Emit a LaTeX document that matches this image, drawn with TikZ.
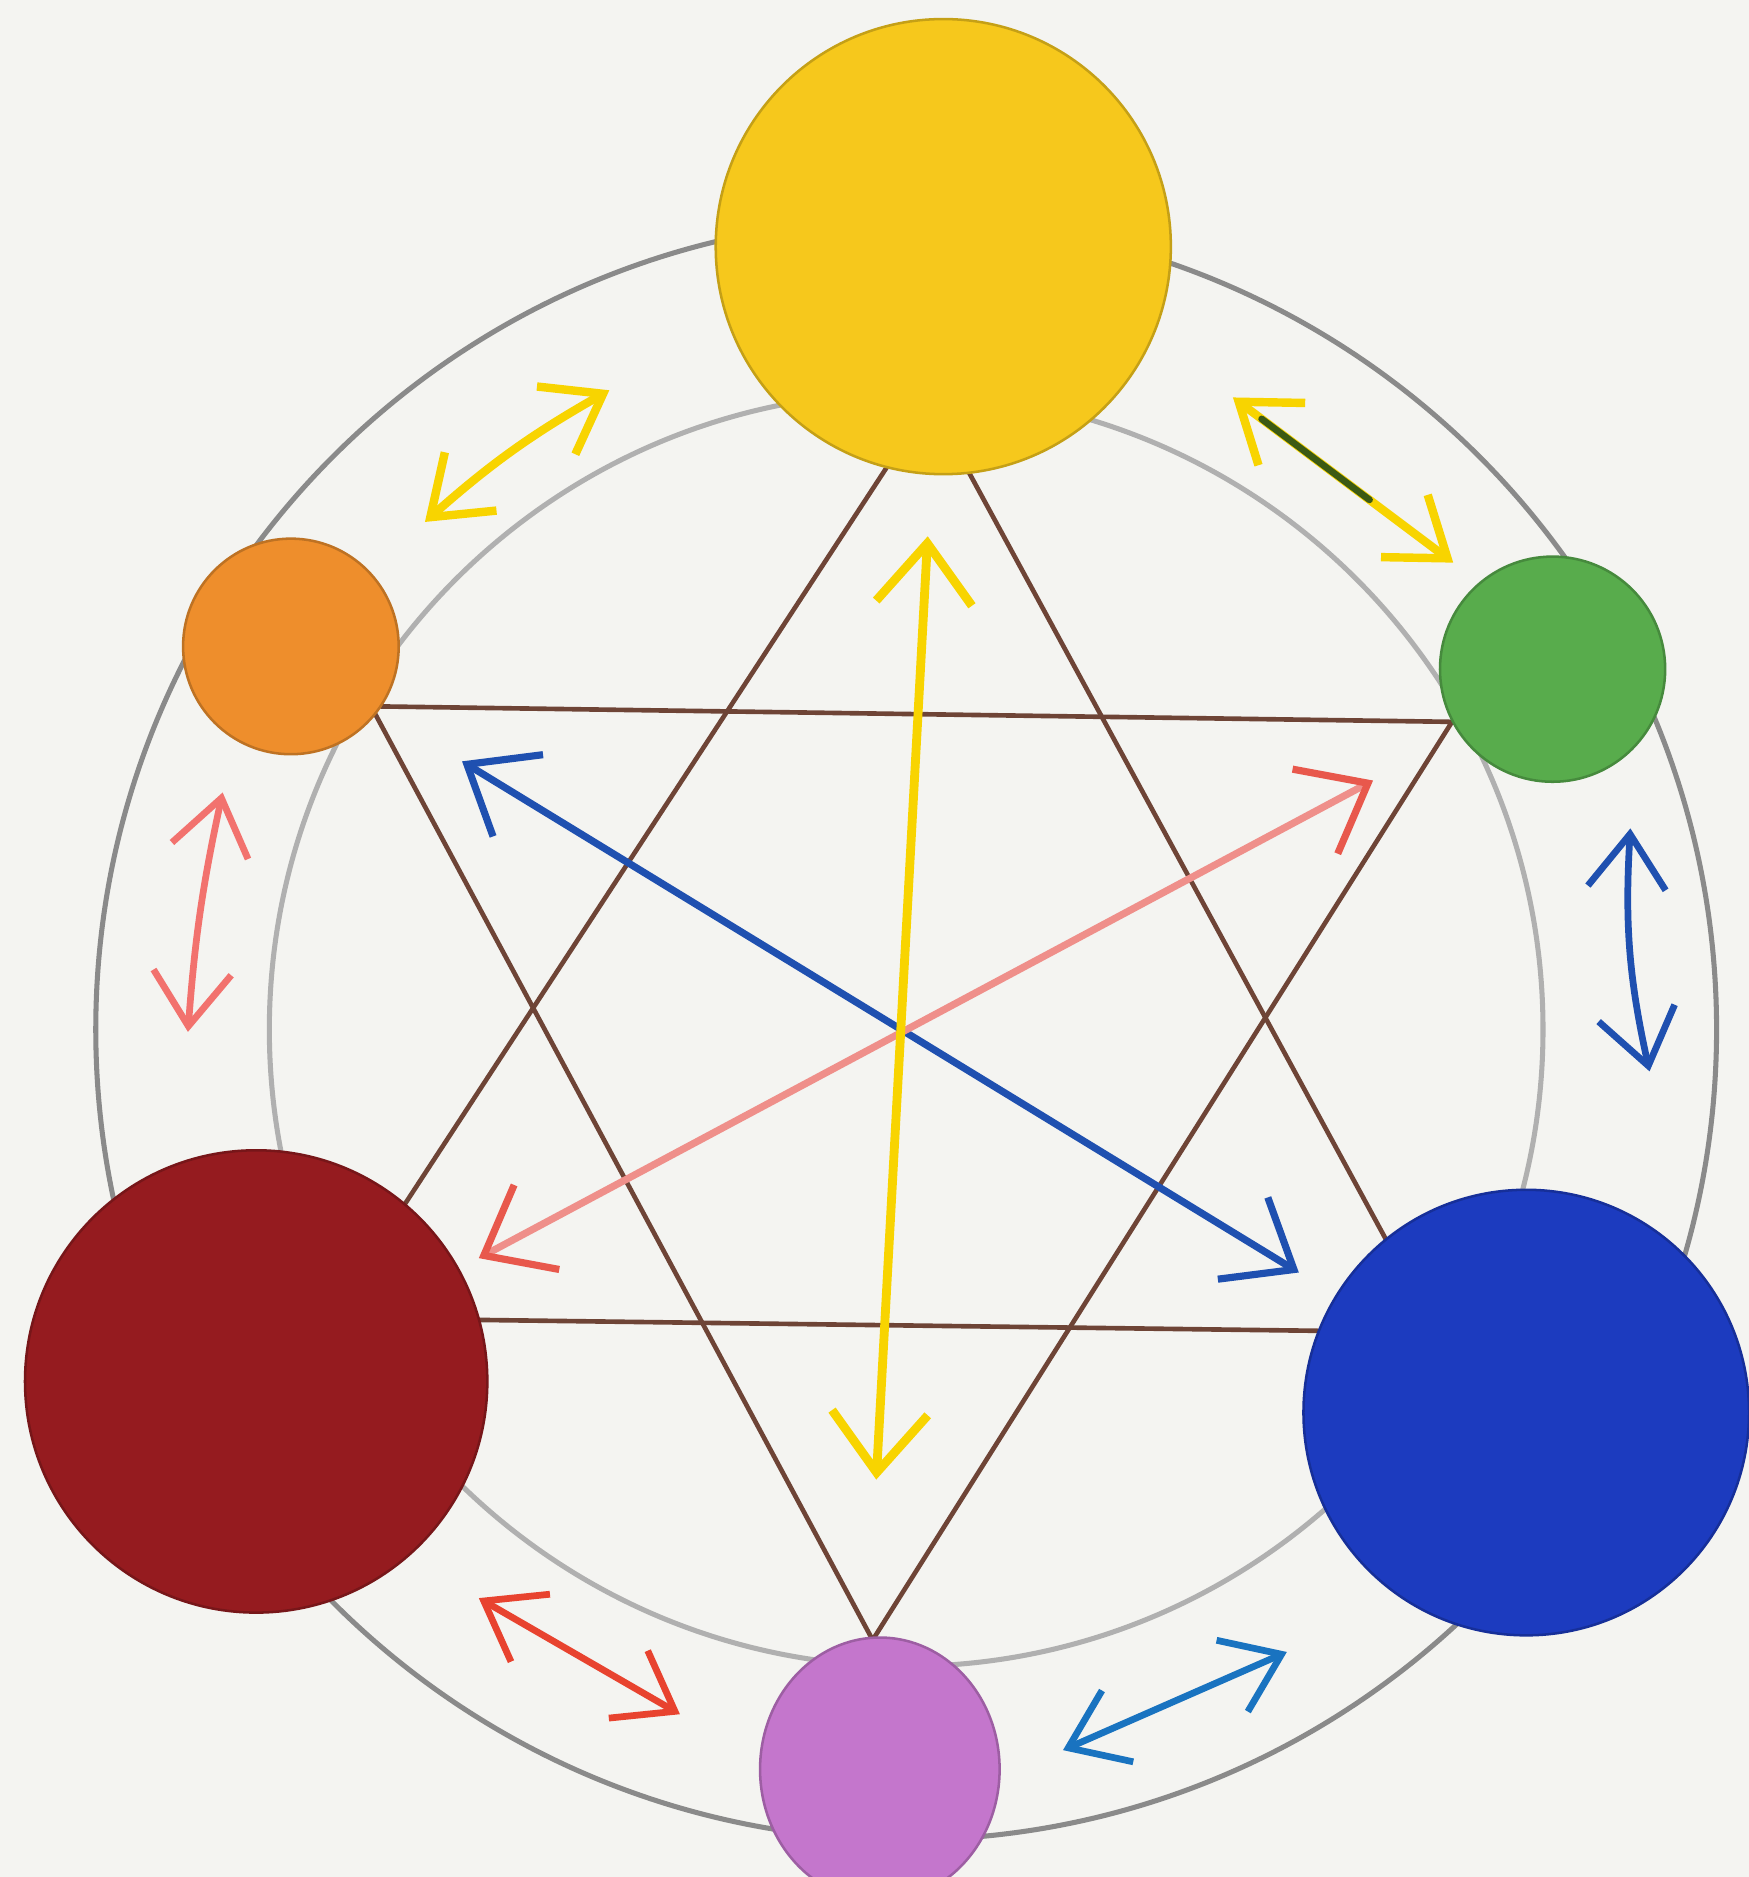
\documentclass[tikz,border=0pt]{standalone}
\usetikzlibrary{arrows.meta,shapes.geometric,calc}
\definecolor{paper}{HTML}{F4F4F1}
\definecolor{ringouter}{HTML}{8A8A8A}
\definecolor{ringinner}{HTML}{B0B0B0}
\definecolor{browncol}{HTML}{6E4436}
\definecolor{yellowc}{HTML}{F6C81C}
\definecolor{orangec}{HTML}{EE8E2C}
\definecolor{greenc}{HTML}{58AC4C}
\definecolor{redc}{HTML}{951B1F}
\definecolor{bluec}{HTML}{1C3BBF}
\definecolor{violetc}{HTML}{C476CC}
\definecolor{arrowyellow}{HTML}{F8D400}
\definecolor{leafgreen}{HTML}{3C5A14}
\definecolor{arrowblue}{HTML}{1F50B0}
\definecolor{arrowpink}{HTML}{EF8F8A}
\definecolor{pinkhead}{HTML}{E8584C}
\definecolor{arrowred}{HTML}{E8432F}
\begin{document}
\begin{tikzpicture}[x=0.01cm,y=-0.01cm,line cap=round,line join=round,
  ring/.style={line width=1.2pt},
  edge/.style={draw=browncol,line width=1.1pt},
  disk/.style={circle,inner sep=0pt,fill=#1,draw=#1!80!black,line width=0.6pt},
  bigarrow/.style={line width=1.7pt,{Straight Barb[length=5mm,width=8mm]}-{Straight Barb[length=5mm,width=8mm]}},
  smallarrow/.style={line width=1.6pt,{Straight Barb[length=4.5mm,width=6.5mm]}-{Straight Barb[length=4.5mm,width=6.5mm]}}]
  \useasboundingbox (0,0) rectangle (1461,1568);
  \clip (0,0) rectangle (1461,1568);
  \fill[paper] (0,0) rectangle (1461,1568);
  % rings
  \draw[ring,draw=ringouter] (757,860) circle[radius=677];
  \draw[ring,draw=ringinner] (757,860) circle[radius=532];
  % two triangles
  \coordinate (ty) at (777,335);
  \coordinate (tr) at (276,1101);
  \coordinate (tb) at (1200,1113);
  \coordinate (to) at (310,590);
  \coordinate (tg) at (1213,603);
  \coordinate (tv) at (729,1370);
  \draw[edge] (ty) -- (tr) -- (tb) -- cycle;
  \draw[edge] (to) -- (tg) -- (tv) -- cycle;
  % colour disks
  \node[disk=yellowc,minimum size=3.80cm] (yellow) at (788,206) {};
  \node[disk=orangec,minimum size=1.80cm] (orange) at (243,540) {};
  \node[disk=greenc,minimum size=1.88cm] (green) at (1297,559) {};
  \node[disk=redc,minimum size=3.86cm] (red) at (214,1154) {};
  \node[disk=bluec,minimum size=3.72cm] (blue) at (1275,1180) {};
  \node[disk=violetc,ellipse,minimum width=2.00cm,minimum height=2.20cm] (violet) at (735,1478) {};
  % arrows across the centre
  \coordinate (ca) at (775,448);
  \coordinate (cb) at (732,1236);
  \coordinate (cc) at (386,636);
  \coordinate (cd) at (1085,1063);
  \coordinate (ce) at (1147,652);
  \coordinate (cf) at (400,1051);
  \draw[bigarrow,draw=arrowblue] (cc) -- (cd);
  \draw[line width=1.7pt,draw=arrowpink,{Straight Barb[length=5mm,width=8mm,color=pinkhead]}-{Straight Barb[length=5mm,width=8mm,color=pinkhead]}] (ce) -- (cf);
  \draw[bigarrow,draw=arrowyellow,line width=2.1pt] (ca) -- (cb);
  % arrows along the ring
  \coordinate (oy1) at (355,436);
  \coordinate (oy2) at (509,326);
  \coordinate (yg1) at (1030,332);
  \coordinate (yg2) at (1214,470);
  \coordinate (gb1) at (1362,692);
  \coordinate (gb2) at (1378,895);
  \coordinate (bv1) at (1075,1380);
  \coordinate (bv2) at (888,1462);
  \coordinate (vr1) at (568,1432);
  \coordinate (vr2) at (400,1335);
  \coordinate (ro1) at (157,862);
  \coordinate (ro2) at (186,662);
  \draw[smallarrow,draw=arrowyellow,line width=2pt] (oy1) to[bend left=6] (oy2);
  \draw[smallarrow,draw=arrowyellow,line width=2pt] (yg1) -- (yg2);
  \draw[draw=leafgreen,line width=1.6pt] ($(yg1)!0.13!(yg2)$) -- ($(yg1)!0.62!(yg2)$);
  \draw[smallarrow,draw=arrowblue] (gb1) to[bend right=8] (gb2);
  \draw[smallarrow,draw=arrowblue!80!cyan] (bv1) -- (bv2);
  \draw[smallarrow,draw=arrowred] (vr1) -- (vr2);
  \draw[smallarrow,draw=arrowpink!80!red] (ro1) to[bend left=4] (ro2);
\end{tikzpicture}
\end{document}
